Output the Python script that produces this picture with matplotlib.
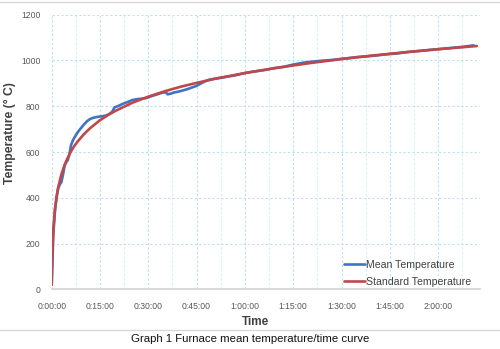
import matplotlib
matplotlib.use("Agg")
import matplotlib.pyplot as plt
from matplotlib.ticker import MultipleLocator, FuncFormatter
from matplotlib.lines import Line2D

plt.rcParams['font.family'] = ['Liberation Sans', 'DejaVu Sans']

# furnace readings, time in minutes
mean_t = [0, 0.5, 1, 1.5, 2, 2.5, 3, 3.5, 4, 4.5, 5, 5.5, 6, 6.5, 7, 8, 9, 10,
          11, 12, 13, 14, 15, 16, 17, 18, 18.8, 19.5, 20.5, 22, 23.5, 25, 26.5,
          28, 29.5, 31, 33, 34.5, 35.5, 36, 37, 38, 40, 42, 44, 45, 46, 47.5, 49,
          51, 54, 57, 60, 63, 66, 69, 72, 75, 78, 81, 84, 87, 90, 92, 95, 98,
          101, 104, 107, 110, 113, 116, 119, 122, 125, 128, 131]
mean_temp = [20, 240, 340, 400, 440, 458, 468, 500, 540, 555, 565, 590, 630,
             648, 662, 685, 703, 720, 735, 745, 750, 753, 755, 757, 760, 767,
             776, 795, 800, 810, 818, 827, 831, 833, 836, 844, 853, 860, 860,
             852, 855, 860, 866, 874, 884, 889, 897, 908, 916, 921, 928, 935,
             945, 952, 958, 966, 972, 982, 990, 995, 999, 1002, 1007, 1010,
             1015, 1018, 1022, 1027, 1030, 1036, 1040, 1044, 1048, 1052, 1056,
             1060, 1066]

std_t = [0, 0.25, 0.5, 1, 1.5, 2, 3, 4, 5, 6, 7, 8, 10, 12, 15, 18, 20, 25, 30,
         35, 40, 45, 50, 60, 70, 80, 90, 100, 110, 120, 132]
std_temp = [20, 185, 261, 349, 404, 445, 502, 544, 576, 603, 626, 645, 678,
            705, 739, 766, 781, 815, 842, 865, 885, 902, 918, 945, 968, 988,
            1006, 1022, 1036, 1049, 1063]

fig = plt.figure(figsize=(5, 3.49), dpi=100)
ax = fig.add_axes([0.1034, 0.1708, 0.8566, 0.7872])

ax.plot(mean_t, mean_temp, color='#3f74c2', lw=1.9, label='Mean Temperature',
        solid_capstyle='round', zorder=3)
ax.plot(std_t, std_temp, color='#c0474a', lw=1.9, label='Standard Temperature',
        solid_capstyle='round', zorder=4)

ax.set_xlim(0, 133)
ax.set_ylim(0, 1200)
ax.xaxis.set_major_locator(MultipleLocator(15))
ax.xaxis.set_minor_locator(MultipleLocator(7.5))
ax.yaxis.set_major_locator(MultipleLocator(200))


def hms(v, pos):
    m = int(round(v))
    return f"{m // 60}:{m % 60:02d}:00"


ax.xaxis.set_major_formatter(FuncFormatter(hms))
ax.grid(True, which='major', color='#b9e0f0', ls=(0, (2, 2)), lw=0.8)
ax.grid(True, which='minor', axis='x', color='#d8eef7', ls=(0, (2, 2)), lw=0.8)
ax.set_axisbelow(True)

for s in ['top', 'right', 'left']:
    ax.spines[s].set_visible(False)
ax.spines['bottom'].set_color('#d9d9d9')
ax.spines['bottom'].set_linewidth(1.4)
ax.tick_params(which='both', length=0, colors='#595959', labelsize=6.2)
ax.tick_params(axis='y', pad=8)
ax.tick_params(axis='x', pad=9)

fig.text(0.02, 0.618, 'Temperature (° C)', rotation=90, ha='center',
         va='center', fontsize=8.8, fontweight='bold', color='#404040')
fig.text(0.512, 0.078, 'Time', ha='center', va='center', fontsize=8.5,
         fontweight='bold', color='#404040')
fig.text(0.5, 0.028, 'Graph 1 Furnace mean temperature/time curve',
         ha='center', va='center', fontsize=8.2, color='#111111')

# chart frame lines
fig.add_artist(Line2D([0, 1], [0.994, 0.994], color='#d9d9d9', lw=1.0))
fig.add_artist(Line2D([0, 1], [0.054, 0.054], color='#d9d9d9', lw=1.0))

leg = ax.legend(loc='lower right', bbox_to_anchor=(0.995, -0.015),
                frameon=False, fontsize=7.6, handlelength=2.0,
                handletextpad=0.1, labelspacing=0.7, borderaxespad=0.2)
for t in leg.get_texts():
    t.set_color('#404040')

fig.savefig('out.png', dpi=100)
